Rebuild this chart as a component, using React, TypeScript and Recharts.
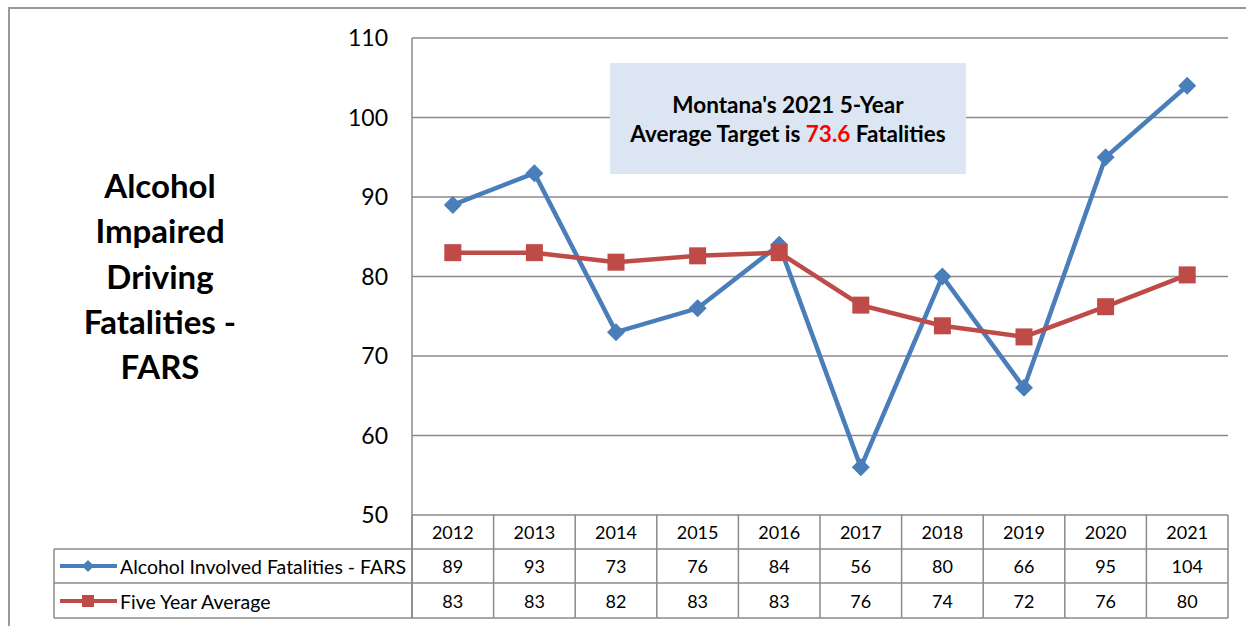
import { LineChart, Line, XAxis, YAxis, CartesianGrid } from 'recharts';

const years = ['2012', '2013', '2014', '2015', '2016', '2017', '2018', '2019', '2020', '2021'];
const alcoholFatalities = [89, 93, 73, 76, 84, 56, 80, 66, 95, 104];
const fiveYearAverage = [83.0, 83.0, 81.8, 82.6, 83.0, 76.4, 73.8, 72.4, 76.2, 80.2];
const yTicks = [50, 60, 70, 80, 90, 100, 110];
const titleLines = ['Alcohol', 'Impaired', 'Driving', 'Fatalities -', 'FARS'];
const seriesNames = ['Alcohol Involved Fatalities - FARS', 'Five Year Average'];

const W = 1246;
const H = 626;
const PLOT_LEFT = 412;
const PLOT_RIGHT = 1228;
const PLOT_TOP = 38;
const PLOT_BOTTOM = 515;
const ROW1 = 549;
const ROW2 = 583;
const ROW3 = 618;
const HALF = (PLOT_RIGHT - PLOT_LEFT) / years.length / 2;
const GRAY = '#8a8a8a';
const BLUE = '#4a7ebb';
const RED = '#be4b48';
const FONT = 'Lato, "Open Sans", sans-serif';

const data = years.map((y, i) => ({
  year: y,
  fars: alcoholFatalities[i],
  avg: fiveYearAverage[i],
}));

const Diamond = (props: any) => {
  const { cx, cy } = props;
  if (cx == null || cy == null) return null;
  const r = 9;
  return <polygon points={`${cx},${cy - r} ${cx + r},${cy} ${cx},${cy + r} ${cx - r},${cy}`} fill={BLUE} />;
};

const Square = (props: any) => {
  const { cx, cy } = props;
  if (cx == null || cy == null) return null;
  const s = 17;
  return <rect x={cx - s / 2} y={cy - s / 2} width={s} height={s} fill={RED} />;
};

// x-axis ticks draw the data table columns
const TableTick = (props: any) => {
  const { x, payload, index } = props;
  const left = x - HALF;
  const right = x + HALF;
  const i = index as number;
  const last = i === years.length - 1;
  return (
    <g>
      <line x1={left} x2={left} y1={PLOT_BOTTOM} y2={ROW3} stroke={GRAY} strokeWidth={1.5} />
      {last && <line x1={right} x2={right} y1={PLOT_BOTTOM} y2={ROW3} stroke={GRAY} strokeWidth={1.5} />}
      <line x1={left} x2={right} y1={ROW1} y2={ROW1} stroke={GRAY} strokeWidth={1.5} />
      <line x1={left} x2={right} y1={ROW2} y2={ROW2} stroke={GRAY} strokeWidth={1.5} />
      <line x1={left} x2={right} y1={ROW3} y2={ROW3} stroke={GRAY} strokeWidth={1.5} />
      <text x={x} y={(PLOT_BOTTOM + ROW1) / 2} textAnchor="middle" dominantBaseline="central" fontSize={18} fill="#000" fontFamily={FONT}>
        {payload.value}
      </text>
      <text x={x} y={(ROW1 + ROW2) / 2} textAnchor="middle" dominantBaseline="central" fontSize={18} fill="#000" fontFamily={FONT}>
        {alcoholFatalities[i]}
      </text>
      <text x={x} y={(ROW2 + ROW3) / 2} textAnchor="middle" dominantBaseline="central" fontSize={18} fill="#000" fontFamily={FONT}>
        {Math.round(fiveYearAverage[i])}
      </text>
    </g>
  );
};

export default function App() {
  return (
    <div style={{ position: 'absolute', left: 0, top: 0, width: W, height: H, overflow: 'hidden', background: '#fff', fontFamily: FONT }}>
      <div style={{ position: 'absolute', left: 8, top: 7, width: 1400, height: 800, border: '2px solid #999' }} />
      <LineChart width={W} height={H} data={data} margin={{ top: PLOT_TOP, right: W - PLOT_RIGHT, bottom: 0, left: 0 }}>
        <CartesianGrid vertical={false} stroke={GRAY} strokeWidth={1.5} />
        <XAxis
          dataKey="year"
          height={H - PLOT_BOTTOM}
          axisLine={false}
          tickLine={false}
          interval={0}
          padding={{ left: HALF, right: HALF }}
          tick={<TableTick />}
        />
        <YAxis
          width={PLOT_LEFT}
          domain={[50, 110]}
          ticks={yTicks}
          axisLine={false}
          tickLine={false}
          tickSize={0}
          tickMargin={24}
          tick={{ fontSize: 23, fill: '#000', fontFamily: FONT }}
        />
        <Line dataKey="fars" stroke={BLUE} strokeWidth={4.5} dot={<Diamond />} activeDot={false} isAnimationActive={false} />
        <Line dataKey="avg" stroke={RED} strokeWidth={4.5} dot={<Square />} activeDot={false} isAnimationActive={false} />
      </LineChart>

      <svg width={W} height={H} style={{ position: 'absolute', left: 0, top: 0, pointerEvents: 'none' }}>
        <line x1={PLOT_LEFT} x2={PLOT_LEFT} y1={PLOT_TOP} y2={ROW3} stroke={GRAY} strokeWidth={1.5} />
        <line x1={54} x2={54} y1={ROW1} y2={ROW3} stroke={GRAY} strokeWidth={1.5} />
        <line x1={54} x2={PLOT_LEFT} y1={ROW1} y2={ROW1} stroke={GRAY} strokeWidth={1.5} />
        <line x1={54} x2={PLOT_LEFT} y1={ROW2} y2={ROW2} stroke={GRAY} strokeWidth={1.5} />
        <line x1={54} x2={PLOT_LEFT} y1={ROW3} y2={ROW3} stroke={GRAY} strokeWidth={1.5} />
        <line x1={60} x2={117} y1={566} y2={566} stroke={BLUE} strokeWidth={4} />
        <polygon points="88,560 94,566 88,572 82,566" fill={BLUE} />
        <line x1={60} x2={117} y1={601} y2={601} stroke={RED} strokeWidth={4} />
        <rect x={82} y={595} width={12} height={12} fill={RED} />
        <text x={120} y={566} dominantBaseline="central" fontSize={19.5} fontFamily={FONT} fill="#000">{seriesNames[0]}</text>
        <text x={120} y={601} dominantBaseline="central" fontSize={19.5} fontFamily={FONT} fill="#000">{seriesNames[1]}</text>
        {titleLines.map((t, i) => (
          <text key={t} x={160} y={185 + i * 45.3} textAnchor="middle" dominantBaseline="central" fontSize={33} fontWeight="bold" fontFamily={FONT} fill="#000">
            {t}
          </text>
        ))}
      </svg>

      <div
        style={{
          position: 'absolute', left: 610, top: 63, width: 356, height: 111, background: '#dce6f2',
          display: 'flex', alignItems: 'center', justifyContent: 'center', textAlign: 'center',
          fontWeight: 'bold', fontSize: 22.5, lineHeight: '29px', color: '#000',
        }}
      >
        <div>
          Montana's 2021 5-Year<br />
          Average Target is <span style={{ color: '#ff0000' }}>73.6</span> Fatalities
        </div>
      </div>
    </div>
  );
}
